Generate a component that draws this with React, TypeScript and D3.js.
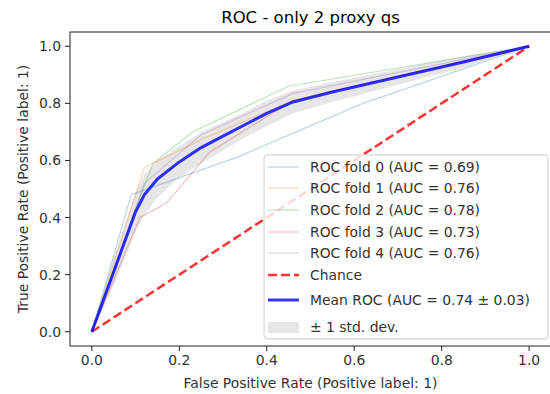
import React, { useEffect, useRef } from 'react';
import * as d3 from 'd3';

const W = 550;
const H = 394;

// ROC curves per fold (false positive rate / true positive rate)
const fold0Fpr = [0, 0.09, 0.33, 0.62, 1];
const fold0Tpr = [0, 0.48, 0.61, 0.8, 1];
const fold1Fpr = [0, 0.12, 0.26, 0.46, 1];
const fold1Tpr = [0, 0.575, 0.68, 0.81, 1];
const fold2Fpr = [0, 0.11, 0.14, 0.23, 0.45, 1];
const fold2Tpr = [0, 0.47, 0.59, 0.7, 0.86, 1];
const fold3Fpr = [0, 0.11, 0.17, 0.27, 0.46, 1];
const fold3Tpr = [0, 0.4, 0.45, 0.63, 0.81, 1];
const fold4Fpr = [0, 0.12, 0.25, 0.46, 1];
const fold4Tpr = [0, 0.52, 0.69, 0.835, 1];

const foldLabels = ['ROC fold 0 (AUC = 0.69)', 'ROC fold 1 (AUC = 0.76)', 'ROC fold 2 (AUC = 0.78)', 'ROC fold 3 (AUC = 0.73)', 'ROC fold 4 (AUC = 0.76)'];
const foldColors = ['#1f77b4', '#ff7f0e', '#2ca02c', '#d62728', '#9467bd'];

// mean ROC and +/- 1 std band
const meanFpr = [0, 0.05, 0.1, 0.12, 0.15, 0.2, 0.25, 0.3, 0.35, 0.4, 0.46, 0.55, 0.65, 0.75, 0.85, 1];
const meanTpr = [0, 0.21, 0.42, 0.48, 0.535, 0.595, 0.645, 0.685, 0.725, 0.765, 0.805, 0.84, 0.875, 0.91, 0.945, 1];
const tprUpper = [0, 0.26, 0.49, 0.55, 0.6, 0.65, 0.7, 0.735, 0.77, 0.81, 0.845, 0.875, 0.905, 0.935, 0.965, 1];
const tprLower = [0, 0.16, 0.35, 0.41, 0.47, 0.54, 0.59, 0.635, 0.68, 0.72, 0.765, 0.805, 0.845, 0.885, 0.925, 1];

const ticks = [0, 0.2, 0.4, 0.6, 0.8, 1.0];

const App = () => {
  const ref = useRef<SVGSVGElement>(null);

  useEffect(() => {
    const svg = d3.select(ref.current);
    svg.selectAll('*').remove();

    const left = 70, right = 551, top = 32, bottom = 346;
    const x = d3.scaleLinear().domain([-0.05, 1.05]).range([left, right]);
    const y = d3.scaleLinear().domain([-0.05, 1.05]).range([bottom, top]);
    const font = 'DejaVu Sans, sans-serif';
    const fs = '13.9px';

    svg.append('rect').attr('width', W).attr('height', H).attr('fill', '#fff');

    // title
    svg.append('text')
      .attr('x', (left + right) / 2)
      .attr('y', 23)
      .attr('text-anchor', 'middle')
      .style('font-family', font)
      .style('font-size', '16.5px')
      .text('ROC - only 2 proxy qs');

    const line = d3.line<[number, number]>().x(d => x(d[0])).y(d => y(d[1]));

    // std band
    const band = d3.area<number>()
      .x((d, i) => x(meanFpr[i]))
      .y0((d, i) => y(tprLower[i]))
      .y1((d, i) => y(tprUpper[i]));
    svg.append('path')
      .datum(meanFpr)
      .attr('d', band)
      .attr('fill', 'grey')
      .attr('fill-opacity', 0.2);

    // folds
    const folds = [
      [fold0Fpr, fold0Tpr],
      [fold1Fpr, fold1Tpr],
      [fold2Fpr, fold2Tpr],
      [fold3Fpr, fold3Tpr],
      [fold4Fpr, fold4Tpr],
    ];
    folds.forEach(([f, t], k) => {
      svg.append('path')
        .attr('d', line(f.map((v, i) => [v, t[i]] as [number, number])))
        .attr('fill', 'none')
        .attr('stroke', foldColors[k])
        .attr('stroke-opacity', 0.3)
        .attr('stroke-width', 1.2);
    });

    // chance
    svg.append('path')
      .attr('d', line([[0, 0], [1, 1]]))
      .attr('stroke', 'red')
      .attr('stroke-opacity', 0.8)
      .attr('stroke-width', 2.5)
      .attr('stroke-dasharray', '9,4');

    // mean ROC
    svg.append('path')
      .attr('d', line(meanFpr.map((v, i) => [v, meanTpr[i]] as [number, number])))
      .attr('fill', 'none')
      .attr('stroke', 'blue')
      .attr('stroke-opacity', 0.8)
      .attr('stroke-width', 3)
      .attr('stroke-linejoin', 'round');

    // frame
    svg.append('rect')
      .attr('x', left).attr('y', top)
      .attr('width', right - left).attr('height', bottom - top)
      .attr('fill', 'none').attr('stroke', '#222').attr('stroke-width', 1);

    // ticks
    ticks.forEach(t => {
      svg.append('line').attr('x1', x(t)).attr('x2', x(t)).attr('y1', bottom).attr('y2', bottom + 5).attr('stroke', '#222');
      svg.append('text').attr('x', x(t)).attr('y', bottom + 19).attr('text-anchor', 'middle')
        .style('font-family', font).style('font-size', fs).attr('fill', '#333').text(t.toFixed(1));
      svg.append('line').attr('x1', left - 5).attr('x2', left).attr('y1', y(t)).attr('y2', y(t)).attr('stroke', '#222');
      svg.append('text').attr('x', left - 9).attr('y', y(t) + 5).attr('text-anchor', 'end')
        .style('font-family', font).style('font-size', fs).attr('fill', '#333').text(t.toFixed(1));
    });

    svg.append('text')
      .attr('x', (left + right) / 2).attr('y', 388).attr('text-anchor', 'middle')
      .style('font-family', font).style('font-size', fs).attr('fill', '#333')
      .text('False Positive Rate (Positive label: 1)');
    svg.append('text')
      .attr('transform', `translate(28,${(top + bottom) / 2}) rotate(-90)`)
      .attr('text-anchor', 'middle')
      .style('font-family', font).style('font-size', fs).attr('fill', '#333')
      .text('True Positive Rate (Positive label: 1)');

    // legend
    const lg = svg.append('g');
    lg.append('rect')
      .attr('x', 264).attr('y', 155).attr('width', 284).attr('height', 184)
      .attr('rx', 3)
      .attr('fill', '#fff').attr('fill-opacity', 0.8)
      .attr('stroke', '#ccc');
    const rowsY = [167, 188, 210, 232, 253, 275, 300, 327];
    const addText = (ty: number, s: string) =>
      lg.append('text').attr('x', 310).attr('y', ty + 5)
        .style('font-family', font).style('font-size', fs).attr('fill', '#333').text(s);
    foldLabels.forEach((s, k) => {
      lg.append('line').attr('x1', 268).attr('x2', 299).attr('y1', rowsY[k]).attr('y2', rowsY[k])
        .attr('stroke', foldColors[k]).attr('stroke-opacity', 0.3).attr('stroke-width', 1.2);
      addText(rowsY[k], s);
    });
    lg.append('line').attr('x1', 268).attr('x2', 299).attr('y1', rowsY[5]).attr('y2', rowsY[5])
      .attr('stroke', 'red').attr('stroke-opacity', 0.8).attr('stroke-width', 2.5).attr('stroke-dasharray', '9,4');
    addText(rowsY[5], 'Chance');
    lg.append('line').attr('x1', 268).attr('x2', 299).attr('y1', rowsY[6]).attr('y2', rowsY[6])
      .attr('stroke', 'blue').attr('stroke-opacity', 0.8).attr('stroke-width', 3);
    addText(rowsY[6], 'Mean ROC (AUC = 0.74 \u00b1 0.03)');
    lg.append('rect').attr('x', 268).attr('y', rowsY[7] - 5).attr('width', 31).attr('height', 11)
      .attr('fill', 'grey').attr('fill-opacity', 0.2);
    addText(rowsY[7], '\u00b1 1 std. dev.');
  }, []);

  return (
    <div style={{ position: 'fixed', left: 0, top: 0 }}>
      <svg ref={ref} width={W} height={H} style={{ display: 'block' }} />
    </div>
  );
};

export default App;
